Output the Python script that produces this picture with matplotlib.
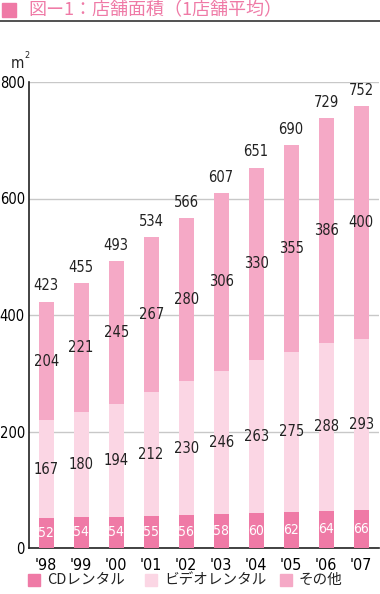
import matplotlib.pyplot as plt
from matplotlib.patches import Rectangle

# ----------------------------------------------------------
# DATA
# ----------------------------------------------------------

years = ["'98", "'99", "'00", "'01", "'02", "'03", "'04", "'05", "'06", "'07"]
cd_rental = [52, 54, 54, 55, 56, 58, 60, 62, 64, 66]
video_rental = [167, 180, 194, 212, 230, 246, 263, 275, 288, 293]
other = [204, 221, 245, 267, 280, 306, 330, 355, 386, 400]
totals = [423, 455, 493, 534, 566, 607, 651, 690, 729, 752]
series_names = ["CDレンタル", "ビデオレンタル", "その他"]
y_ticks = [0, 200, 400, 600, 800]

# ----------------------------------------------------------
# STYLE
# ----------------------------------------------------------

C_CD = "#ef7aa6"
C_VIDEO = "#fbd6e4"
C_OTHER = "#f5a9c6"
C_TITLE = "#ef7aa6"

NUM = dict(family="DejaVu Sans", stretch="condensed")
JP_FONT = ["Noto Sans CJK JP", "DejaVu Sans"]

fig = plt.figure(figsize=(3.8, 5.94), dpi=100)
ax = fig.add_axes([29 / 380, 46 / 594, 350 / 380, 466 / 594])

x = list(range(len(years)))
w = 0.43

bottom2 = [a + b for a, b in zip(cd_rental, video_rental)]
ax.bar(x, cd_rental, w, color=C_CD, zorder=3)
ax.bar(x, video_rental, w, bottom=cd_rental, color=C_VIDEO, zorder=3)
ax.bar(x, other, w, bottom=bottom2, color=C_OTHER, zorder=3)

for i in x:
    ax.text(i, cd_rental[i] / 2, str(cd_rental[i]), ha="center", va="center",
            color="white", fontsize=10, zorder=4, **NUM)
    ax.text(i, cd_rental[i] + video_rental[i] / 2, str(video_rental[i]), ha="center",
            va="center", color="#222222", fontsize=10.5, zorder=4, **NUM)
    ax.text(i, bottom2[i] + other[i] / 2, str(other[i]), ha="center", va="center",
            color="#222222", fontsize=10.5, zorder=4, **NUM)
    top = bottom2[i] + other[i]
    ax.text(i, top + 14, str(totals[i]), ha="center", va="bottom",
            color="#222222", fontsize=10.5, zorder=4, **NUM)

ax.set_xlim(-0.49, 9.51)
ax.set_ylim(0, 800)
ax.set_yticks(y_ticks)
ax.set_yticklabels([str(v) for v in y_ticks], fontsize=10.5, **NUM)
ax.set_xticks(x)
ax.set_xticklabels(years, fontsize=11.5, **NUM)
ax.tick_params(length=0)
ax.tick_params(axis="x", pad=7)
ax.tick_params(axis="y", pad=3)
ax.yaxis.grid(True, color="#c8c8c8", linewidth=1, zorder=0)
ax.set_axisbelow(True)
for s in ["top", "right"]:
    ax.spines[s].set_visible(False)
ax.spines["left"].set_color("#222222")
ax.spines["bottom"].set_color("#222222")
ax.spines["left"].set_linewidth(1.2)
ax.spines["bottom"].set_linewidth(1.2)

# unit label
fig.text(11 / 380, 1 - 64 / 594, "m", fontsize=11, va="center", color="#222222", **NUM)
fig.text(24 / 380, 1 - 56 / 594, "2", fontsize=6.5, va="center", color="#222222", **NUM)

# title
fig.patches.append(Rectangle((2 / 380, 1 - 17 / 594), 14 / 380, 14 / 594,
                             transform=fig.transFigure, color=C_TITLE))
fig.text(28 / 380, 1 - 10 / 594, "図ー1：店舗面積（1店舗平均）", family=JP_FONT,
         fontsize=13, color=C_TITLE, va="center")
fig.add_artist(plt.Line2D([0, 1], [1 - 21 / 594, 1 - 21 / 594], transform=fig.transFigure,
                          color="#333333", linewidth=1.2))

# legend
leg_x = [28, 145, 280]
leg_c = [C_CD, C_VIDEO, C_OTHER]
for lx, c, name in zip(leg_x, leg_c, series_names):
    fig.patches.append(Rectangle((lx / 380, 1 - 586 / 594), 12 / 380, 12 / 594,
                                 transform=fig.transFigure, color=c))
    fig.text((lx + 19) / 380, 1 - 580 / 594, name, family=JP_FONT, fontsize=10.5,
             va="center", color="#222222")

fig.savefig("out.png", dpi=100)
